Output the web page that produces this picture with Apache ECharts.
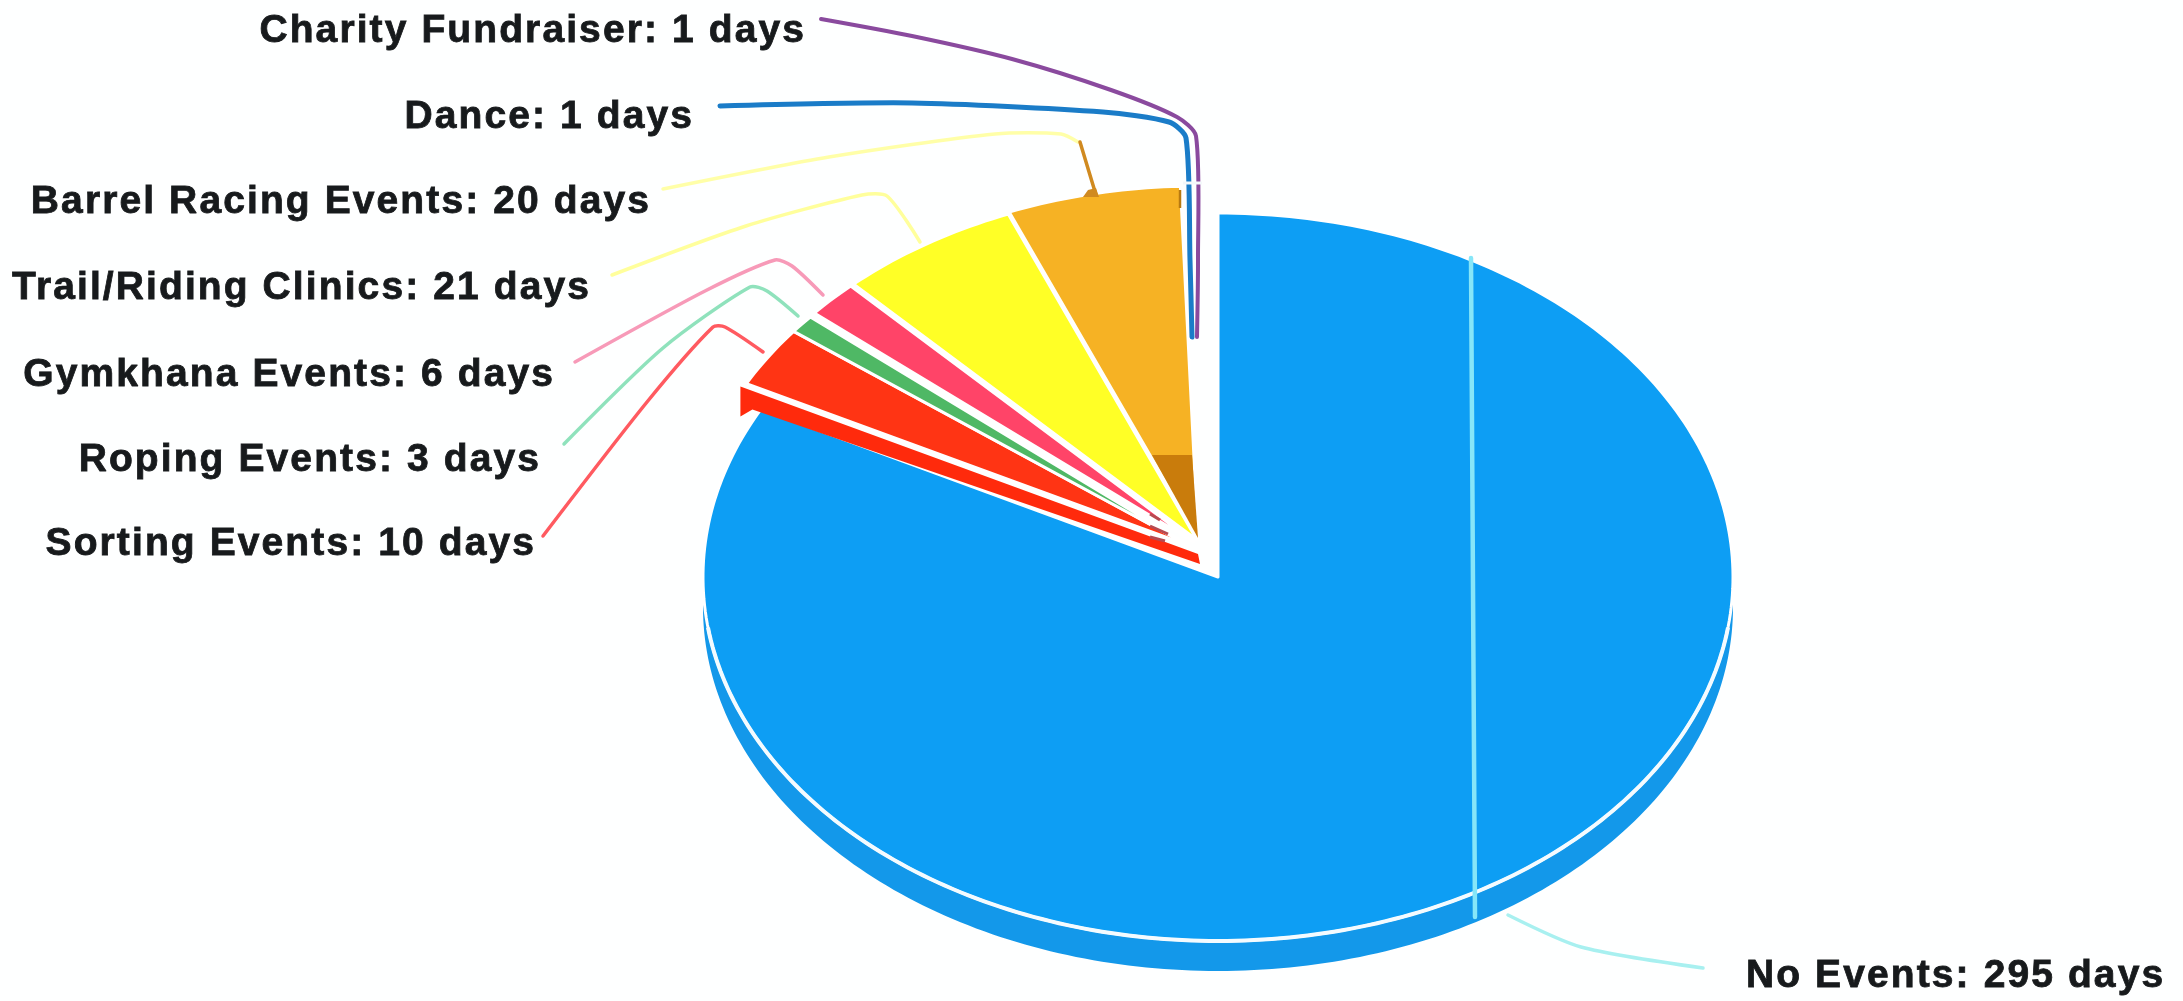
<!DOCTYPE html>
<html><head><meta charset="utf-8">
<style>html,body{margin:0;padding:0;background:#feffff}#c{width:2183px;height:1001px}</style>
<script src="https://cdn.jsdelivr.net/npm/echarts@6/dist/echarts.min.js"></script>
</head><body><div id="c"></div>
<script>
// ---- data ----
const categories = ['No Events','Sorting Events','Roping Events','Gymkhana Events','Trail/Riding Clinics','Barrel Racing Events','Dance','Charity Fundraiser'];
const days = [295,10,3,6,21,20,1,1];
// ---- style / layout ----
const sliceColors = ['#0d9ef4','#ff3414','#4fb865','#ff4468','#ffff26','#f6b224','#1a7cc8','#8a5a9c'];
const labelAnchors = [[1746,976,'left'],[536,544,'right'],[541,460,'right'],[555,375,'right'],[591,288,'right'],[651,202,'right'],[694,117,'right'],[806,31,'right']];
const leaderLines = [
 [['#a8f0f0',3.5,[[1508,915],[1581,947],[1703,968]]],['#86e6f8',4.5,[[1471,258],[1475,917]]]],
 [['#ff5a60',3.5,[[543,536],[647,402],[713,327],[725,327],[763,352]]]],
 [['#8fe2bc',3.5,[[564,444],[663,348],[750,287],[767,291],[798,316]]]],
 [['#f79ab8',3.5,[[575,362],[705,291],[775,260],[792,266],[823,295]]]],
 [['#ffff9c',3.5,[[612,275],[746,226],[862,195],[887,196],[920,242]]]],
 [['#ffffa8',3.5,[[663,189],[829,157],[995,134],[1061,134],[1078,142]]],['#d08a20',3.5,[[1080,142],[1096,195]]]],
 [['#1a7cc8',5,[[720,106],[912,103],[1103,112],[1169,122],[1186,138],[1190,260],[1192,337]]]],
 [['#8a4a9e',4,[[821,19],[912,36],[1012,59],[1111,90],[1177,117],[1196,136],[1198,260],[1197,337]]]]
];
const sliceCentres = [[1218,577],[1190,546],[1190,546],[1194,542],[1197,540],[1198,538],[1198,538],[1198,538]];
const W=2183,H=1001;
const mainR={rx:515,ry:364};
const splitR={rx:500,ry:352};
const WALL=30;
const total=days.reduce((a,b)=>a+b,0);
let run=0;
const rows=days.map((d,i)=>{const r=[i,d,run];run+=d;return r;});
const pt=(p,deg,dy=0)=>{const a=deg*Math.PI/180;return [p.cx+p.rx*Math.sin(a),p.cy-p.ry*Math.cos(a)+dy];};
function arc(p,a0,a1,dy){const out=[];const n=Math.max(2,Math.ceil(Math.abs(a1-a0)));for(let k=0;k<=n;k++)out.push(pt(p,a0+(a1-a0)*k/n,dy));return out;}
// label tracking of the scanned source lettering
['fillText','strokeText'].forEach(fn=>{
  const nativeFn=CanvasRenderingContext2D.prototype[fn];
  CanvasRenderingContext2D.prototype[fn]=function(){this.letterSpacing='2.1px';return nativeFn.apply(this,arguments);};
});
const chart=echarts.init(document.getElementById('c'),null,{renderer:'canvas'});
function renderItem(params,api){
  const i=api.value(0),d=api.value(1),s=api.value(2);
  const a0=s/total*360,a1=(s+d)/total*360;
  const C=pts=>pts.map(q=>api.coord(q));
  const r=i===0?mainR:splitR;
  const p={cx:sliceCentres[i][0],cy:sliceCentres[i][1],rx:r.rx,ry:r.ry};
  const kids=[];
  if(i===0){
    kids.push({type:'polygon',shape:{points:C(arc(p,90,270,0).concat(arc(p,270,90,WALL)))},style:{fill:'#1398ea'}});
  }
  if(i===1){ // visible cut wall of the lifted slice
    const a=pt(p,a0),c=[p.cx,p.cy];
    kids.push({type:'polygon',shape:{points:C([[a[0]-6,a[1]+3],[a[0]-6,a[1]+33],[a[0]+6,a[1]+26],[c[0]+10,c[1]+18],[c[0]+8,c[1]+8]])},style:{fill:'#ff2a0c'}});
  }
  if(i<6){ // the two 1-day slices appear only as their coloured edge lines
    kids.push({type:'polygon',shape:{points:C([[p.cx,p.cy]].concat(arc(p,a0,a1,0)))},
      style:{fill:sliceColors[i],stroke:'#ffffff',lineWidth:3,lineJoin:'round'}});
  }
  if(i===0){
    kids.push({type:'polyline',shape:{points:C(arc(p,98,262,0))},style:{fill:null,stroke:'#f4fbff',lineWidth:4}});
  }
  if(i===5){ // dark inner wall at the tip of the slice and small scan marks
    kids.push({type:'polygon',shape:{points:C([[1152,455],[1192,455],[1198,538]])},style:{fill:'#c97c0c'}});
    kids.push({type:'polygon',shape:{points:C([[1083,197],[1099,197],[1096,188],[1088,190]])},style:{fill:'#d08a20'}});
    kids.push({type:'line',shape:{x1:api.coord([1180,0])[0],y1:api.coord([0,190])[1],x2:api.coord([1180,0])[0],y2:api.coord([0,208])[1]},style:{stroke:'#b87a10',lineWidth:2.5}});
    [[[1150,514],[1160,520]],[[1150,526],[1168,534]],[[1150,537],[1165,541]]].forEach(q=>{
      kids.push({type:'polyline',shape:{points:C(q)},style:{fill:null,stroke:'#b84a50',lineWidth:3}});
    });
  }
  leaderLines[i].forEach(([col,lw,pts])=>{
    kids.push({type:'polyline',shape:{points:C(pts),smooth:0.25},style:{fill:null,stroke:col,lineWidth:lw,lineCap:'round'}});
  });
  if(i===7){
    kids.push({type:'polyline',shape:{points:C([[1183,183],[1202,183]])},style:{fill:null,stroke:'#f4f8fb',lineWidth:3}});
  }
  const [lx,ly,al]=labelAnchors[i];
  const lp=api.coord([lx,ly]);
  kids.push({type:'text',x:lp[0],y:lp[1],style:{text:categories[i]+': '+d+' days',fill:'#171a1c',stroke:'#171a1c',lineWidth:0.8,
    font:'bold 39px "Liberation Sans", Arial, sans-serif',align:al,verticalAlign:'middle'}});
  return {type:'group',children:kids};
}
chart.setOption({
  backgroundColor:'#feffff',animation:false,
  grid:{left:0,right:0,top:0,bottom:0},
  xAxis:{type:'value',min:0,max:W,show:false},
  yAxis:{type:'value',min:0,max:H,inverse:true,show:false},
  series:[{type:'custom',coordinateSystem:'cartesian2d',clip:false,silent:true,renderItem,
    encode:{x:0,y:1},data:rows}]
});
</script></body></html>
